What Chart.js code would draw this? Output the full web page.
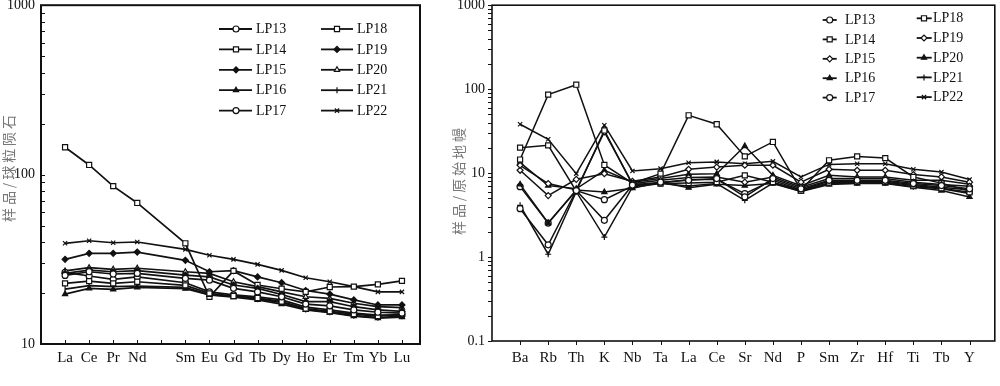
<!DOCTYPE html>
<html>
<head>
<meta charset="utf-8">
<script src="https://cdn.jsdelivr.net/npm/chart.js@4.4.1/dist/chart.umd.min.js"></script>
<style>
html, body { margin: 0; padding: 0; background: #fff; }
#wrap { position: relative; width: 1000px; height: 386px; }
#reechart { position: absolute; left: 0; top: 0; }
#pmchart { position: absolute; left: 430px; top: 0; }
</style>
</head>
<body>
<div id="wrap">
<canvas id="reechart" width="430" height="386"></canvas>
<canvas id="pmchart" width="570" height="386"></canvas>
</div>
<script>
// sample names
const samples = ['LP13', 'LP14', 'LP15', 'LP16', 'LP17', 'LP18', 'LP19', 'LP20', 'LP21', 'LP22'];

// chondrite normalised REE (Pm slot left empty)
const reeLabels = ['La', 'Ce', 'Pr', 'Nd', '', 'Sm', 'Eu', 'Gd', 'Tb', 'Dy', 'Ho', 'Er', 'Tm', 'Yb', 'Lu'];
const ree13 = [25.4, 26.7, 25.9, 26.1, null, 24.4, 23.8, 21.3, 20.3, 19.0, 17.2, 16.8, 15.9, 15.4, 15.2];
const ree14 = [22.8, 23.5, 22.8, 23.3, null, 22.2, 19.9, 19.2, 18.7, 17.8, 16.2, 15.6, 15.0, 14.6, 15.0];
const ree15 = [26.1, 27.3, 26.7, 27.1, null, 25.5, 24.9, 22.3, 21.3, 19.6, 17.8, 17.8, 16.6, 15.9, 15.6];
const ree16 = [19.7, 21.3, 21.0, 21.6, null, 21.2, 19.5, 18.9, 18.2, 17.2, 15.9, 15.3, 14.6, 14.2, 14.4];
const ree17 = [26.5, 25.2, 24.1, 24.9, null, 23.0, 20.3, 19.5, 19.0, 18.2, 16.5, 15.9, 15.2, 14.8, 14.8];
const ree18 = [145, 114, 85.5, 68, null, 39.3, 19.0, 27.0, 22.3, 21.2, 20.3, 21.7, 21.8, 22.5, 23.6];
const ree19 = [31.6, 34.3, 34.3, 34.9, null, 31.2, 26.7, 27.1, 24.9, 23.0, 20.7, 19.7, 18.2, 17.0, 17.0];
const ree20 = [27.0, 28.2, 27.6, 28.0, null, 26.7, 26.1, 23.3, 21.8, 20.3, 19.0, 18.6, 17.4, 16.6, 16.4];
const ree21 = [21.1, 22.1, 21.8, 22.0, null, 21.6, 19.5, 19.2, 18.4, 17.6, 16.0, 15.4, 14.7, 14.3, 14.6];
const ree22 = [39.3, 40.7, 39.6, 40.0, null, 36.2, 33.4, 31.6, 29.5, 27.2, 24.6, 23.3, 21.8, 20.3, 20.3];

// primitive mantle normalised trace elements
const pmLabels = ['Ba', 'Rb', 'Th', 'K', 'Nb', 'Ta', 'La', 'Ce', 'Sr', 'Nd', 'P', 'Sm', 'Zr', 'Hf', 'Ti', 'Tb', 'Y'];
const pm13 = [3.77, 1.40, 6.2, 2.74, 7.2, 7.8, 8.2, 8.6, 5.2, 8.6, 6.5, 8.2, 8.2, 8.2, 7.5, 7.1, 6.5];
const pm14 = [20.1, 21.4, 6.1, 32.2, 7.3, 7.5, 7.6, 7.8, 9.4, 7.8, 6.2, 7.7, 7.8, 7.8, 7.1, 6.6, 5.9];
const pm15 = [12.4, 7.5, 6.3, 30.9, 7.5, 8.2, 8.85, 9.0, 7.8, 9.0, 6.8, 8.6, 8.6, 8.6, 7.8, 7.3, 6.95];
const pm16 = [7.35, 2.54, 6.3, 5.95, 6.6, 7.8, 6.7, 7.35, 7.1, 7.5, 6.06, 7.3, 7.5, 7.5, 6.8, 6.2, 5.2];
const pm17 = [6.9, 2.54, 6.2, 4.83, 7.0, 7.6, 8.4, 8.4, 5.7, 8.2, 6.3, 8.0, 8.0, 8.0, 7.3, 6.8, 6.3];
const pm18 = [14.5, 86, 113, 12.5, 7.6, 9.85, 48.8, 38.2, 15.8, 23.5, 6.3, 14.2, 15.8, 15.1, 9.0, 7.6, 6.1];
const pm19 = [10.8, 5.4, 8.43, 9.85, 8.0, 9.0, 11.1, 11.8, 12.4, 12.4, 7.8, 11.1, 10.8, 10.8, 9.6, 9.0, 7.8];
const pm20 = [13.3, 7.1, 6.5, 10.8, 7.8, 8.6, 9.7, 9.8, 21.0, 9.4, 7.1, 9.4, 9.0, 9.0, 8.2, 8.2, 7.35];
const pm21 = [4.13, 1.08, 6.0, 1.73, 6.8, 7.5, 7.0, 7.5, 4.74, 7.6, 6.1, 7.5, 7.6, 7.6, 6.9, 6.5, 5.7];
const pm22 = [38.2, 25.3, 9.85, 37.2, 10.6, 11.3, 13.3, 13.6, 12.9, 13.8, 9.0, 12.7, 12.9, 12.9, 11.1, 10.3, 8.37];

const reeTicks = [10, 100, 1000];
const pmTicks = [0.1, 1, 10, 100, 1000];

// marker styles
const reeStyle = ['circle', 'rect', 'rectRot', 'triangle', 'circle', 'rect', 'rectRot', 'triangle', 'line', 'crossRot'];
const reeFilled = [false, false, true, true, false, false, true, false, false, false];
const pmStyle = ['circle', 'rect', 'rectRot', 'triangle', 'circle', 'rect', 'rectRot', 'triangle', 'cross', 'crossRot'];
const pmFilled = [false, false, false, true, false, false, false, true, false, false];

const INK = '#111';
const SERIF = "'Liberation Serif', 'Times New Roman', serif";

function minorTicks(list) {
    let out = [];
    for (let i = 0; i < list.length - 1; i++)
        for (let k = 1; k < 10; k++) out.push(list[i] * k);
    out.push(list[list.length - 1]);
    return out;
}

const boxPlugin = {
    id: 'box',
    afterDraw(chart, args, o) {
        const {ctx, chartArea: a} = chart;
        const x = chart.scales.x, y = chart.scales.y;
        ctx.save();
        ctx.strokeStyle = INK;
        ctx.lineWidth = o.frame;
        ctx.strokeRect(a.left, a.top, a.right - a.left, a.bottom - a.top);
        // ticks
        const d = o.inside ? 1 : -1;
        ctx.lineWidth = 1;
        ctx.beginPath();
        o.yTicks.forEach(v => {
            const py = Math.round(y.getPixelForValue(v)) + 0.5;
            ctx.moveTo(a.left, py); ctx.lineTo(a.left + d * o.len, py);
        });
        o.xTicks.forEach(v => {
            const px = Math.round(x.getPixelForValue(v)) + 0.5;
            ctx.moveTo(px, a.bottom); ctx.lineTo(px, a.bottom - d * o.len);
        });
        ctx.stroke();

        // rotated axis title, characters spread out
        ctx.fillStyle = '#777';
        ctx.font = "14px 'Noto Sans CJK SC', sans-serif";
        ctx.textAlign = 'left';
        ctx.translate(o.title.x, o.title.y);
        ctx.rotate(-Math.PI / 2);
        const chars = Array.from(o.title.text);
        const w = chars.map(c => ctx.measureText(c).width);
        const gap = (o.title.len - w.reduce((s, v) => s + v, 0)) / (chars.length - 1);
        let cx = -o.title.len / 2;
        ctx.textBaseline = 'middle';
        chars.forEach((c, i) => { ctx.fillText(c, cx, 0); cx += w[i] + gap; });
        ctx.setTransform(1, 0, 0, 1, 0, 0);

        // legend, two columns
        const L = o.legend;
        chart.data.datasets.forEach((ds, i) => {
            const c = L.cols[Math.floor(i / 5)];
            const yy = c.y0 + (i % 5) * c.dy;
            ctx.strokeStyle = INK;
            ctx.lineWidth = L.lineWidth;
            ctx.beginPath(); ctx.moveTo(c.x1, yy); ctx.lineTo(c.x2, yy); ctx.stroke();
            ctx.fillStyle = ds.pointBackgroundColor;
            ctx.lineWidth = ds.pointBorderWidth;
            Chart.helpers.drawPoint(ctx, {
                pointStyle: ds.pointStyle, rotation: ds.pointRotation || 0,
                radius: ds.pointRadius, borderWidth: ds.pointBorderWidth
            }, c.mx, yy);
            ctx.fillStyle = INK;
            ctx.font = '14px ' + SERIF;
            ctx.textBaseline = 'middle';
            ctx.fillText(ds.label, c.tx, yy + 0.5);
        });
        ctx.restore();
    }
};

function makeSets(rows, styles, filled, lw) {
    return rows.map((row, i) => ({
        label: samples[i],
        data: row.map((v, k) => ({x: k, y: v})),
        borderColor: INK,
        borderWidth: lw,
        pointStyle: styles[i],
        pointRotation: styles[i] === 'line' ? 90 : 0,
        pointRadius: styles[i] === 'rect' ? 3.6 : 3,
        pointBorderWidth: 1.2,
        pointBackgroundColor: filled[i] ? INK : '#fff',
        pointBorderColor: INK,
        spanGaps: true
    }));
}

function makeChart(id, labels, rows, styles, filled, cfg) {
    return new Chart(id, {
        type: 'line',
        data: {datasets: makeSets(rows, styles, filled, cfg.lw)},
        options: {
            responsive: false,
            animation: false,
            layout: {padding: cfg.pad},
            plugins: {
                legend: {display: false},
                tooltip: {enabled: false},
                box: cfg.box
            },
            scales: {
                x: {
                    type: 'linear', min: -1, max: cfg.xmax,
                    grid: {display: false, drawTicks: false, tickLength: 0}, border: {display: false},
                    afterBuildTicks: s => { s.ticks = labels.map((_, i) => ({value: i})); },
                    afterFit: s => { s.height = cfg.xh; s.paddingLeft = 0; s.paddingRight = 0; },
                    ticks: {
                        autoSkip: false, maxRotation: 0, padding: cfg.xpad,
                        color: INK, font: {family: SERIF, size: 15},
                        callback: v => labels[v] ?? ''
                    }
                },
                y: {
                    type: 'logarithmic', min: cfg.ticks[0], max: cfg.ticks[cfg.ticks.length - 1],
                    grid: {display: false, drawTicks: false, tickLength: 0}, border: {display: false},
                    afterBuildTicks: s => { s.ticks = cfg.ticks.map(v => ({value: v})); },
                    afterFit: s => { s.width = cfg.yw; s.paddingTop = 0; s.paddingBottom = 0; },
                    ticks: {
                        padding: cfg.ypad, color: INK, font: {family: SERIF, size: cfg.yfont},
                        callback: v => String(v)
                    }
                }
            }
        },
        plugins: [boxPlugin]
    });
}

makeChart('reechart', reeLabels,
    [ree13, ree14, ree15, ree16, ree17, ree18, ree19, ree20, ree21, ree22],
    reeStyle, reeFilled, {
        lw: 1.7, pad: {left: 0, top: 5, right: 10, bottom: 0},
        xmax: 14.75, xh: 42, yw: 41, xpad: 5, ypad: 6, yfont: 14, ticks: reeTicks,
        box: {
            frame: 2, inside: true, len: 4,
            yTicks: minorTicks(reeTicks), xTicks: reeLabels.map((_, i) => i),
            title: {text: '样品/球粒陨石', x: 9, y: 168.5, len: 107},
            legend: {
                lineWidth: 1.8,
                cols: [
                    {x1: 219, x2: 252, mx: 236, tx: 256, y0: 29, dy: 20.4},
                    {x1: 321, x2: 353, mx: 337, tx: 357, y0: 29, dy: 20.4}
                ]
            }
        }
    });

makeChart('pmchart', pmLabels,
    [pm13, pm14, pm15, pm16, pm17, pm18, pm19, pm20, pm21, pm22],
    pmStyle, pmFilled, {
        lw: 1.5, pad: {left: 0, top: 5, right: 3, bottom: 0},
        xmax: 16.9, xh: 45, yw: 62, xpad: 8, ypad: 7, yfont: 14, ticks: pmTicks,
        box: {
            frame: 1.6, inside: false, len: 4,
            yTicks: minorTicks(pmTicks), xTicks: pmLabels.map((_, i) => i),
            title: {text: '样品/原始地幔', x: 28.8, y: 181.5, len: 107},
            legend: {
                lineWidth: 1.8,
                cols: [
                    {x1: 392.7, x2: 406.7, mx: 399.7, tx: 415, y0: 20, dy: 19.4},
                    {x1: 486.7, x2: 501.7, mx: 494, tx: 503, y0: 18.3, dy: 19.7}
                ]
            }
        }
    });
</script>
</body>
</html>
